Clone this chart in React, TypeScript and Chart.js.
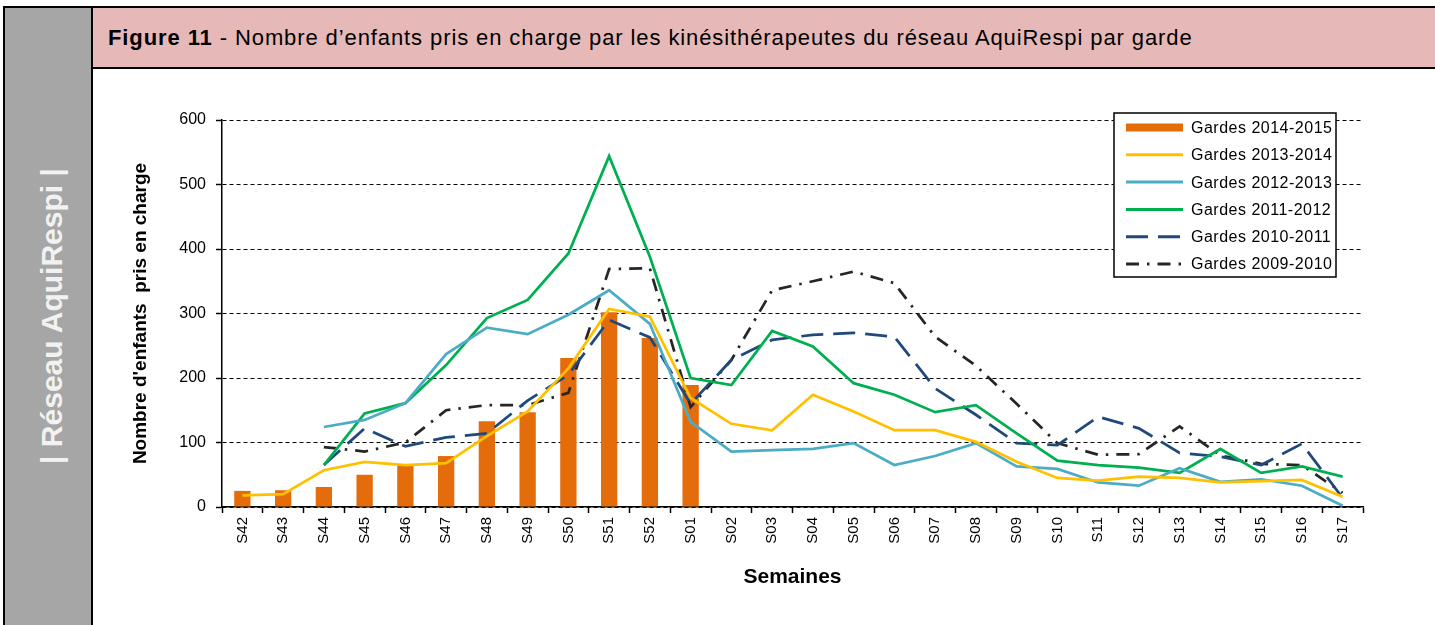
import React, { useEffect, useRef } from 'react';
import { Chart, registerables } from 'chart.js';

Chart.register(...registerables);

const FONT = '"Liberation Sans", Arial, Helvetica, sans-serif';

// Categories (weeks)
const weeks = [
  'S42', 'S43', 'S44', 'S45', 'S46', 'S47', 'S48', 'S49', 'S50', 'S51', 'S52',
  'S01', 'S02', 'S03', 'S04', 'S05', 'S06', 'S07', 'S08', 'S09', 'S10',
  'S11', 'S12', 'S13', 'S14', 'S15', 'S16', 'S17',
];

const seriesLabels = [
  'Gardes 2014-2015',
  'Gardes 2013-2014',
  'Gardes 2012-2013',
  'Gardes 2011-2012',
  'Gardes 2010-2011',
  'Gardes 2009-2010',
];

const gardes2014_2015 = [25, 26, 31, 50, 65, 79, 133, 147, 231, 302, 262, 189,
  null, null, null, null, null, null, null, null, null, null, null, null, null, null, null, null];

const gardes2013_2014 = [18, 20, 57, 70, 65, 68, 110, 148, 215, 307, 295,
  169, 129, 119, 174, 148, 119, 119, 101, 70, 45, 41, 47, 45, 38, 40, 42, 16];

const gardes2012_2013 = [null, null, 124, 135, 161, 237, 278, 268, 298, 336, 284,
  132, 86, 88, 90, 99, 65, 79, 99, 63, 59, 38, 33, 60, 39, 43, 33, 2];

const gardes2011_2012 = [null, null, 65, 145, 161, 220, 293, 321, 393, 544, 388,
  200, 189, 273, 249, 192, 174, 147, 158, 114, 72, 65, 61, 53, 90, 53, 63, 47];

const gardes2010_2011 = [null, null, 65, 122, 94, 108, 114, 165, 205, 290, 263,
  160, 228, 259, 267, 270, 264, 184, 143, 99, 96, 140, 122, 84, 78, 65, 98, 14];

const gardes2009_2010 = [null, null, 93, 86, 100, 150, 158, 158, 177, 369, 370,
  155, 228, 336, 350, 365, 347, 264, 219, 160, 99, 81, 82, 125, 80, 67, 65, 22];

const yMin = 0;
const yMax = 600;
const yStep = 100;

const boxLegendPlugin = {
  id: 'boxLegend',
  afterDraw(chart: any) {
    const { ctx, chartArea } = chart;
    const w = 222;
    const h = 164;
    const x0 = chartArea.right - 27 - w;
    const y0 = chartArea.top - 7;
    ctx.save();
    ctx.setLineDash([]);
    ctx.fillStyle = '#ffffff';
    ctx.fillRect(x0, y0, w, h);
    ctx.lineWidth = 1.5;
    ctx.strokeStyle = '#000000';
    ctx.strokeRect(x0, y0, w, h);
    chart.data.datasets.forEach((ds: any, i: number) => {
      const cy = y0 + 14.5 + i * 27.3;
      if (ds.type === 'bar') {
        ctx.fillStyle = ds.backgroundColor;
        ctx.fillRect(x0 + 12, cy - 4, 57, 8);
      } else {
        ctx.strokeStyle = ds.borderColor;
        ctx.lineWidth = 3;
        ctx.lineCap = 'butt';
        ctx.setLineDash(ds.borderDash || []);
        ctx.beginPath();
        ctx.moveTo(x0 + 12, cy);
        ctx.lineTo(x0 + 69, cy);
        ctx.stroke();
        ctx.setLineDash([]);
      }
      ctx.fillStyle = '#000000';
      ctx.font = `16px ${FONT}`;
      ctx.textBaseline = 'middle';
      ctx.textAlign = 'left';
      ctx.letterSpacing = '0.5px';
      ctx.fillText(ds.label, x0 + 77, cy + 1);
      ctx.letterSpacing = '0px';
    });
    ctx.restore();
  },
};

function ChartCanvas() {
  const ref = useRef<HTMLCanvasElement | null>(null);
  useEffect(() => {
    if (!ref.current) return;
    const lineBase = {
      type: 'line' as const,
      borderWidth: 2.75,
      pointRadius: 0,
      tension: 0,
      fill: false,
      order: 0,
      borderCapStyle: 'butt' as const,
    };
    const chart = new Chart(ref.current, {
      type: 'bar',
      data: {
        labels: weeks,
        datasets: [
          {
            type: 'bar',
            label: seriesLabels[0],
            data: gardes2014_2015,
            backgroundColor: '#E46C0A',
            borderWidth: 0,
            barPercentage: 0.4,
            categoryPercentage: 1.0,
            order: 1,
          } as any,
          { ...lineBase, label: seriesLabels[1], data: gardes2013_2014, borderColor: '#FFC000' },
          { ...lineBase, label: seriesLabels[2], data: gardes2012_2013, borderColor: '#4BACC6' },
          { ...lineBase, label: seriesLabels[3], data: gardes2011_2012, borderColor: '#00B050' },
          { ...lineBase, label: seriesLabels[4], data: gardes2010_2011, borderColor: '#1F497D', borderDash: [22, 10] },
          { ...lineBase, label: seriesLabels[5], data: gardes2009_2010, borderColor: '#262626', borderDash: [13, 8, 2.5, 8] },
        ],
      },
      options: {
        responsive: false,
        maintainAspectRatio: false,
        animation: false,
        devicePixelRatio: 1,
        layout: { padding: { top: 50, right: 72, left: 0, bottom: 0 } },
        plugins: {
          legend: { display: false },
          title: { display: false },
          tooltip: { enabled: false },
        },
        scales: {
          x: {
            ticks: {
              autoSkip: false,
              minRotation: 90,
              maxRotation: 90,
              color: '#000',
              font: { family: FONT, size: 15 },
              padding: 4,
            },
            grid: {
              offset: true,
              drawOnChartArea: false,
              drawTicks: true,
              tickLength: 6,
              color: '#000',
              tickWidth: 1.5,
            },
            border: { display: true, color: '#000', width: 1.5 },
            title: {
              display: true,
              text: 'Semaines',
              color: '#000',
              font: { family: FONT, size: 21, weight: 'bold' },
              padding: { top: 0, bottom: 35 },
            },
            afterFit(scale: any) { scale.height = 118; },
          },
          y: {
            min: yMin,
            max: yMax,
            ticks: {
              stepSize: yStep,
              color: '#000',
              font: { family: FONT, size: 16 },
              padding: 10,
            },
            grid: {
              color: '#000',
              lineWidth: 1,
              drawTicks: true,
              tickLength: 6,
              tickWidth: 1.5,
              tickBorderDash: [],
            },
            border: { display: true, color: '#000', width: 1.5, dash: [4, 3] },
            title: {
              display: true,
              text: "Nombre d'enfants  pris en charge",
              color: '#000',
              font: { family: FONT, size: 19, weight: 'bold' },
              padding: { top: 35, bottom: 0 },
            },
            afterFit(scale: any) { scale.width = 128; },
          },
        },
      } as any,
      plugins: [boxLegendPlugin],
    });
    return () => chart.destroy();
  }, []);
  return <canvas ref={ref} width={1341} height={555} style={{ display: 'block', width: 1341, height: 555 }} />;
}

export default function App() {
  return (
    <div style={{ position: 'absolute', left: 0, top: 0, width: 1435, height: 625, background: '#fff', overflow: 'hidden', fontFamily: FONT }}>
      {/* frame */}
      <div style={{ position: 'absolute', left: 3, top: 6, width: 1432, height: 2, background: '#000' }} />
      <div style={{ position: 'absolute', left: 3, top: 6, width: 2, height: 619, background: '#000' }} />
      <div style={{ position: 'absolute', left: 5, top: 8, width: 86, height: 617, background: '#A6A6A6' }} />
      <div style={{ position: 'absolute', left: 91, top: 6, width: 2, height: 619, background: '#000' }} />
      <div style={{ position: 'absolute', left: 93, top: 8, width: 1342, height: 59, background: '#E6B9B8' }} />
      <div style={{ position: 'absolute', left: 93, top: 67, width: 1342, height: 2, background: '#000' }} />
      {/* sidebar text */}
      <div
        style={{
          position: 'absolute', left: 52, top: 316,
          transform: 'translate(-50%, -50%) rotate(-90deg)',
          whiteSpace: 'nowrap', color: '#F2F2F2', fontWeight: 'bold',
          fontSize: 30, lineHeight: '34px',
        }}
      >
        | Réseau AquiRespi |
      </div>
      {/* title */}
      <div
        style={{
          position: 'absolute', left: 108, top: 8, height: 59,
          display: 'flex', alignItems: 'center', whiteSpace: 'nowrap',
          fontSize: 22, letterSpacing: '0.9px', color: '#000',
        }}
      >
        <span><span style={{ fontWeight: 'bold' }}>Figure 11</span>{' - Nombre d’enfants pris en charge par les kinésithérapeutes du réseau AquiRespi par garde'}</span>
      </div>
      {/* chart */}
      <div style={{ position: 'absolute', left: 94, top: 70, width: 1341, height: 555 }}>
        <ChartCanvas />
      </div>
    </div>
  );
}
